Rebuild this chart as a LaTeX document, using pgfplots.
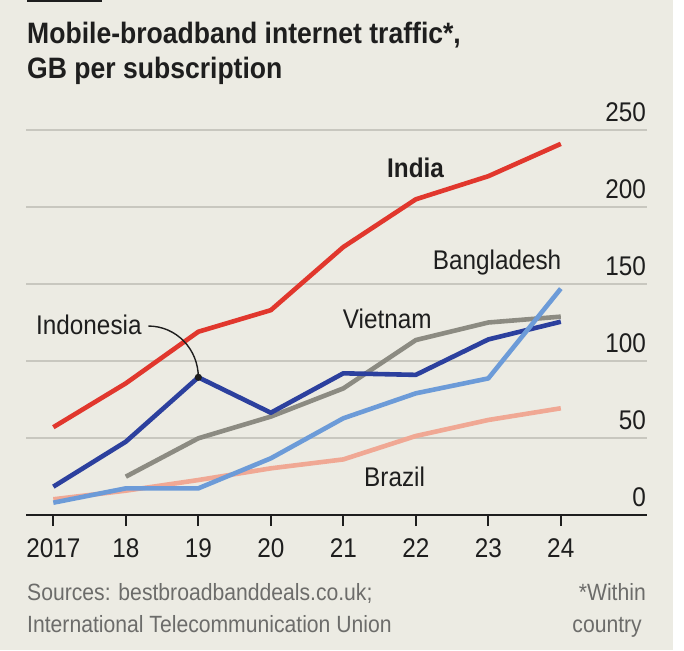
\documentclass[border=0pt]{standalone}
\usepackage{fontspec}
\setmainfont{Liberation Sans}[FakeStretch=0.9]
\usepackage{pgfplots}
\pgfplotsset{compat=1.18}

\definecolor{bg}{RGB}{236,235,227}
\definecolor{gridcol}{RGB}{200,199,191}
\definecolor{inkcol}{RGB}{30,30,30}
\definecolor{notecol}{RGB}{108,108,106}
\definecolor{india}{RGB}{225,55,45}
\definecolor{indonesia}{RGB}{44,64,158}
\definecolor{vietnam}{RGB}{140,139,130}
\definecolor{bangladesh}{RGB}{108,155,216}
\definecolor{brazil}{RGB}{240,168,148}

\newcommand{\lbl}{\fontsize{27}{32}\selectfont}

\begin{document}
\begin{tikzpicture}[x=1pt,y=1pt]
% canvas
\fill[white] (0,0) rectangle (684,650);
\fill[bg] (0,0) rectangle (673,650);
\fill[inkcol] (27,647.5) rectangle (102,650);

% title
\node[anchor=base west, inner sep=0, text=inkcol, font=\bfseries\fontsize{29.5}{34}\selectfont]
  at (27,606.7) {Mobile-broadband internet traffic*,};
\node[anchor=base west, inner sep=0, text=inkcol, font=\fontsize{29.5}{34}\selectfont\bfseries]
  at (27,571.7) {GB per subscription};

\begin{axis}[
  at={(26pt,135pt)}, anchor=south west,
  scale only axis, width=621pt, height=385pt,
  xmin=2016.623, xmax=2025.189, ymin=0, ymax=250,
  clip=false,
  axis line style={draw=none},
  xtick={2017,...,2024},
  xticklabels={2017,18,19,20,21,22,23,24},
  xtick pos=left, xtick align=outside,
  major tick length=11pt,
  x tick style={line width=2pt, color=inkcol},
  xticklabel style={anchor=base, inner sep=0pt, yshift=-31pt, font=\lbl, text=inkcol},
  ytick={50,100,150,200,250},
  ymajorgrids,
  grid style={line width=1.5pt, color=gridcol},
  y tick style={draw=none},
  yticklabel pos=right,
  yticklabel style={anchor=base east, inner sep=0pt, xshift=-1pt, yshift=8pt, font=\lbl, text=inkcol},
  /pgf/number format/assume math mode=true,
  every axis plot/.append style={line width=4.6pt, line join=round, mark=none},
]
% Brazil
\addplot[brazil] coordinates {(2017,10.2) (2018,15.8) (2019,22.7) (2020,30.3) (2021,36.1) (2022,51.3) (2023,61.7) (2024,69.3)};
% Vietnam
\addplot[vietnam] coordinates {(2018,24.9) (2019,49.8) (2020,63.9) (2021,82.2) (2022,113.6) (2023,125) (2024,128.8)};
% Indonesia
\addplot[indonesia] coordinates {(2017,18.4) (2018,47.6) (2019,89.4) (2020,66.4) (2021,92) (2022,91) (2023,114) (2024,125.5)};
% Bangladesh
\addplot[bangladesh] coordinates {(2017,8) (2018,17.3) (2019,17.3) (2020,36.8) (2021,62.8) (2022,79) (2023,88.7) (2024,147)};
% India
\addplot[india] coordinates {(2017,57) (2018,85.5) (2019,119) (2020,133) (2021,174) (2022,205) (2023,220) (2024,241)};

% zero line and the tick label at zero
\draw[line width=2pt, inkcol] (axis cs:2016.623,0) -- (axis cs:2025.189,0);
\node[anchor=base east, inner sep=0, font=\lbl, text=inkcol] at ([xshift=-1pt,yshift=8pt]axis cs:2025.189,0) {0};

% Indonesia callout
\draw[line width=1.4pt, inkcol] (axis cs:2018.31,122.7) to[out=0,in=90] (axis cs:2019,89.4);
\fill[inkcol] (axis cs:2019,89.4) circle (3.6pt);
\end{axis}

% series labels
\node[anchor=base west, inner sep=0, text=inkcol, font=\bfseries\lbl] at (387,472) {India};
\node[anchor=base west, inner sep=0, text=inkcol, font=\lbl] at (432.7,380.7) {Bangladesh};
\node[anchor=base west, inner sep=0, text=inkcol, font=\lbl] at (342.7,321) {Vietnam};
\node[anchor=base west, inner sep=0, text=inkcol, font=\lbl] at (364,163.3) {Brazil};
\node[anchor=base west, inner sep=0, text=inkcol, font=\lbl] at (36,315) {Indonesia};

% footnotes
\node[anchor=base west, inner sep=0, text=notecol, font=\fontsize{23.5}{28}\selectfont] at (27,49.3) {Sources: bestbroadbanddeals.co.uk;};
\node[anchor=base west, inner sep=0, text=notecol, font=\fontsize{23.5}{28}\selectfont] at (27,17.7) {International Telecommunication Union};
\node[anchor=base east, inner sep=0, text=notecol, font=\fontsize{23.5}{28}\selectfont] at (646,49.3) {*Within};
\node[anchor=base east, inner sep=0, text=notecol, font=\fontsize{23.5}{28}\selectfont] at (642,17.7) {country};
\end{tikzpicture}
\end{document}
